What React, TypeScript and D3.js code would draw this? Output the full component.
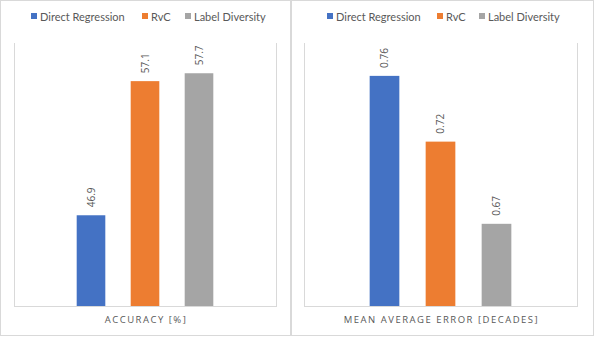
import React from "react";
import * as d3 from "d3";

const series = ["Direct Regression", "RvC", "Label Diversity"];
const colors = ["#4472c4", "#ed7d31", "#a5a5a5"];
const accuracyValues = [46.9, 57.1, 57.7];
const accuracyLabels = ["46.9", "57.1", "57.7"];
const maeValues = [0.76, 0.72, 0.67];
const maeLabels = ["0.76", "0.72", "0.67"];
const accuracyDomain = [40, 60];
const maeDomain = [0.62, 0.78];
const titles = ["ACCURACY [%]", "MEAN AVERAGE ERROR [DECADES]"];

const W = 594;
const H = 337;
const font = "'Open Sans', 'Liberation Sans', sans-serif";
const legendFont = "Lato, 'Open Sans', sans-serif";
const textColor = "#595959";
const lineColor = "#d9d9d9";

type PanelProps = {
  x0: number;
  x1: number;
  plotL: number;
  plotR: number;
  values: number[];
  labels: string[];
  domain: number[];
  title: string;
  legendX: number[];
  padding: number;
};

function Panel({ x0, x1, plotL, plotR, values, labels, domain, title, legendX, padding }: PanelProps) {
  const top = 43;
  const bottom = 306;
  const y = d3.scaleLinear().domain(domain).range([bottom, top]);
  const center = (plotL + plotR) / 2;
  const groupW = padding * 3;
  const x = d3
    .scaleBand<string>()
    .domain(series)
    .range([center - groupW / 2, center + groupW / 2])
    .paddingInner(0.47)
    .paddingOuter(0.235);
  return (
    <g>
      <rect x={x0 + 0.5} y={0.5} width={x1 - x0 - 1} height={335} fill="#fff" stroke={lineColor} />
      <line x1={plotL + 0.5} x2={plotL + 0.5} y1={top} y2={bottom} stroke={lineColor} />
      <line x1={plotR + 0.5} x2={plotR + 0.5} y1={top} y2={bottom} stroke={lineColor} />
      {series.map((s, i) => (
        <g key={s}>
          <rect x={legendX[i]} y={13} width={6} height={6} fill={colors[i]} />
          <text x={legendX[i] + 9} y={20.5} fontSize={11} fill={textColor} fontFamily={legendFont}>
            {s}
          </text>
        </g>
      ))}
      {series.map((s, i) => {
        const bx = x(s)!;
        const bw = x.bandwidth();
        const yt = y(values[i]);
        return (
          <g key={s}>
            <rect x={bx} y={yt} width={bw} height={bottom - yt} fill={colors[i]} />
            <text
              transform={`translate(${bx + bw / 2 + 3.5},${yt - 8}) rotate(-90)`}
              fontSize={10}
              fill={textColor}
              fontFamily={font}
            >
              {labels[i]}
            </text>
          </g>
        );
      })}
      <line x1={plotL} x2={plotR + 1} y1={bottom + 0.5} y2={bottom + 0.5} stroke={lineColor} />
      <text
        x={center + 1}
        y={323}
        textAnchor="middle"
        fontSize={9.5}
        letterSpacing={1.5}
        fill={textColor}
        fontFamily={font}
      >
        {title}
      </text>
    </g>
  );
}

export default function App() {
  return (
    <svg
      width={W}
      height={H}
      style={{ position: "absolute", left: 0, top: 0, background: "#fff" }}
    >
      <Panel
        x0={0}
        x1={291}
        plotL={14}
        plotR={276}
        values={accuracyValues}
        labels={accuracyLabels}
        domain={accuracyDomain}
        title={titles[0]}
        legendX={[31, 142, 185]}
        padding={54}
      />
      <Panel
        x0={291}
        x1={594}
        plotL={304}
        plotR={577}
        values={maeValues}
        labels={maeLabels}
        domain={maeDomain}
        title={titles[1]}
        legendX={[327, 437, 479]}
        padding={56}
      />
    </svg>
  );
}
